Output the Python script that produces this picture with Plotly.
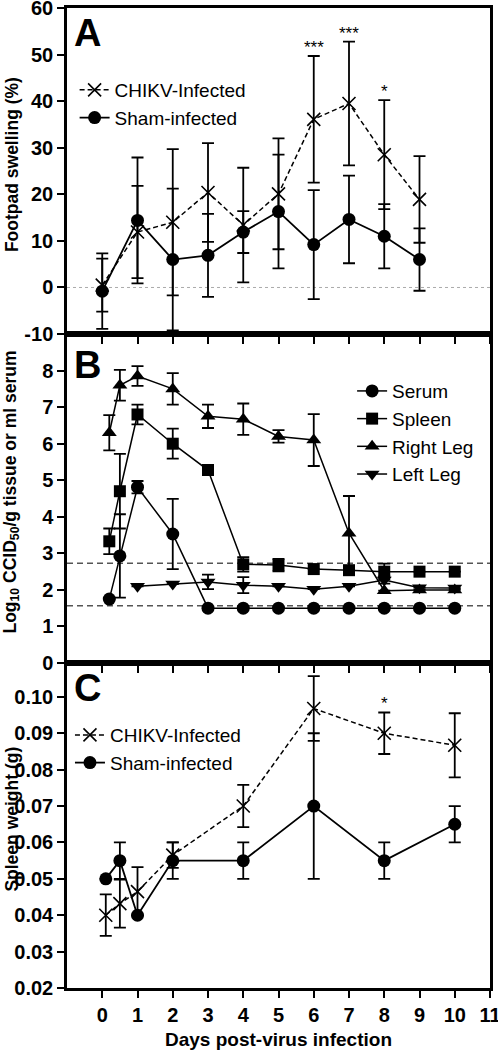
import plotly.graph_objects as go

FONT = "Liberation Sans, Arial, sans-serif"

# ---------------- Panel A: footpad swelling ----------------
days_A = [0, 1, 2, 3, 4, 5, 6, 7, 8, 9]
chikv_A = [0.5, 11.9, 14.0, 20.4, 13.4, 20.1, 36.1, 39.5, 28.5, 18.9]
chikv_A_sd = [5.7, 9.9, 15.7, 10.6, 12.3, 11.9, 13.6, 13.3, 11.7, 9.3]
sham_A = [-0.8, 14.4, 6.0, 6.9, 11.9, 16.3, 9.2, 14.6, 11.0, 6.0]
sham_A_sd = [8.1, 13.5, 15.2, 8.9, 4.5, 12.2, 11.7, 9.4, 6.9, 6.7]
stars_A_days = [6, 7, 8]
stars_A_text = ["***", "***", "*"]
ticks_A = [-10, 0, 10, 20, 30, 40, 50, 60]

# ---------------- Panel B: virus titres ----------------
days_B = [0.2, 0.5, 1, 2, 3, 4, 5, 6, 7, 8, 9, 10]
serum_B = [1.75, 2.93, 4.81, 3.53, 1.5, 1.5, 1.5, 1.5, 1.5, 1.5, 1.5, 1.5]
serum_B_sd = [None, 1.14, 0.17, 0.96, None, None, None, None, None, None, None, None]
spleen_B = [3.33, 4.70, 6.80, 6.00, 5.28, 2.70, 2.68, 2.57, 2.54, 2.50, 2.50, 2.50]
spleen_B_sd = [0.35, 1.02, 0.27, 0.41, 0.10, 0.20, 0.17, None, None, 0.22, None, None]
rightleg_B = [6.30, 7.60, 7.85, 7.50, 6.75, 6.67, 6.20, 6.10, 3.55, 1.98, 2.00, 2.00]
rightleg_B_sd = [0.48, 0.42, 0.27, 0.43, 0.32, 0.43, 0.17, 0.71, 1.02, None, None, None]
days_B_left = [1, 2, 3, 4, 5, 6, 7, 8, 9, 10]
leftleg_B = [2.10, 2.16, 2.22, 2.13, 2.10, 2.02, 2.10, 2.27, 2.06, 2.05]
leftleg_B_sd = [None, None, 0.20, 0.22, None, None, None, 0.10, None, None]
detection_limits = [2.73, 1.57]
ticks_B = [0, 1, 2, 3, 4, 5, 6, 7, 8]

# ---------------- Panel C: spleen weight ----------------
days_C = [0.1, 0.5, 1, 2, 4, 6, 8, 10]
chikv_C = [0.0400, 0.0432, 0.0465, 0.0565, 0.0700, 0.0968, 0.0900, 0.0867]
chikv_C_sd = [0.0057, 0.0066, 0.0067, 0.0035, 0.0058, 0.0089, 0.0057, 0.0088]
sham_C = [0.050, 0.055, 0.040, 0.055, 0.055, 0.070, 0.055, 0.065]
sham_C_sd = [None, 0.005, None, 0.005, 0.005, 0.020, 0.005, 0.005]
stars_C_days = [8]
stars_C_text = ["*"]
ticks_C = [0.02, 0.03, 0.04, 0.05, 0.06, 0.07, 0.08, 0.09, 0.10]

x_ticks = list(range(0, 12))

fig = go.Figure()

def err(arr):
    return dict(type="data", array=arr, visible=True, color="black", thickness=1.8, width=6)

# Panel A traces
fig.add_trace(go.Scatter(
    x=days_A, y=chikv_A, error_y=err(chikv_A_sd), name="CHIKV-Infected",
    mode="lines+markers", xaxis="x", yaxis="y", legend="legend",
    line=dict(color="black", width=1.5, dash="5px,3px"),
    marker=dict(symbol="x-thin", size=13, color="black", line=dict(color="black", width=1.6))))
fig.add_trace(go.Scatter(
    x=days_A, y=sham_A, error_y=err(sham_A_sd), name="Sham-infected",
    mode="lines+markers", xaxis="x", yaxis="y", legend="legend",
    line=dict(color="black", width=1.8),
    marker=dict(symbol="circle", size=13, color="black")))

# Panel B traces
for name, xs, ys, sd, sym, sz in [
    ("Serum", days_B, serum_B, serum_B_sd, "circle", 13),
    ("Spleen", days_B, spleen_B, spleen_B_sd, "square", 12),
    ("Right Leg", days_B, rightleg_B, rightleg_B_sd, "triangle-up", 13),
    ("Left Leg", days_B_left, leftleg_B, leftleg_B_sd, "triangle-down", 13),
]:
    fig.add_trace(go.Scatter(
        x=xs, y=ys, error_y=err(sd), name=name, mode="lines+markers",
        xaxis="x2", yaxis="y2", legend="legend2",
        line=dict(color="black", width=1.5),
        marker=dict(symbol=sym, size=sz, color="black")))

# Panel C traces
fig.add_trace(go.Scatter(
    x=days_C, y=chikv_C, error_y=err(chikv_C_sd), name="CHIKV-Infected",
    mode="lines+markers", xaxis="x3", yaxis="y3", legend="legend3",
    line=dict(color="black", width=1.5, dash="5px,3px"),
    marker=dict(symbol="x-thin", size=13, color="black", line=dict(color="black", width=1.6))))
fig.add_trace(go.Scatter(
    x=days_C, y=sham_C, error_y=err(sham_C_sd), name="Sham-infected",
    mode="lines+markers", xaxis="x3", yaxis="y3", legend="legend3",
    line=dict(color="black", width=1.8),
    marker=dict(symbol="circle", size=13, color="black")))

# reference lines
fig.add_shape(type="line", xref="x domain", yref="y", x0=0, x1=1, y0=0, y1=0,
              line=dict(color="#aaaaaa", width=1, dash="dot"), layer="below")
for lim in detection_limits:
    fig.add_shape(type="line", xref="x2 domain", yref="y2", x0=0, x1=1, y0=lim, y1=lim,
                  line=dict(color="#555555", width=1.5, dash="6px,4px"), layer="below")

# significance stars
for d, t in zip(stars_A_days, stars_A_text):
    i = days_A.index(d)
    fig.add_annotation(x=d, y=chikv_A[i] + chikv_A_sd[i], xref="x", yref="y", text=t,
                       showarrow=False, yanchor="bottom", yshift=-3,
                       font=dict(family=FONT, size=17, color="black"))
for d, t in zip(stars_C_days, stars_C_text):
    i = days_C.index(d)
    fig.add_annotation(x=d, y=chikv_C[i] + chikv_C_sd[i], xref="x3", yref="y3", text=t,
                       showarrow=False, yanchor="bottom", yshift=-2,
                       font=dict(family=FONT, size=17, color="black"))

# panel letters
for letter, yref, ysh in [("A", "y domain", -2), ("B", "y2 domain", -8), ("C", "y3 domain", -2)]:
    fig.add_annotation(text="<b>%s</b>" % letter, xref="paper", yref=yref, x=0.012, y=1.0,
                       xanchor="left", yanchor="top", yshift=ysh, showarrow=False,
                       font=dict(family=FONT, size=38, color="black"))

# y-axis titles
for txt, yref in [("<b>Footpad swelling (%)</b>", "y domain"),
                  ("<b>Log<sub>10</sub> CCID<sub>50</sub>/g tissue or ml serum</b>", "y2 domain"),
                  ("<b>Spleen weight (g)</b>", "y3 domain")]:
    fig.add_annotation(text=txt, xref="paper", yref=yref, x=-0.131, y=0.52,
                       textangle=-90, showarrow=False, xanchor="center", yanchor="middle",
                       font=dict(family=FONT, size=17.5, color="black"))

axis_common = dict(showline=True, linewidth=2.5, linecolor="black", mirror=True,
                   ticks="outside", ticklen=7, tickwidth=2, tickcolor="black",
                   showgrid=False, zeroline=False, automargin=False,
                   ticklabeloverflow="allow",
                   tickfont=dict(family=FONT, size=20, color="black"))

def bold(vals, fmt="{}"):
    return ["<b>%s</b>" % fmt.format(v) for v in vals]

doms = [[0.6673, 1.0], [0.3316, 0.6673], [0.0, 0.3316]]

fig.update_layout(
    width=498, height=1050, autosize=False,
    margin=dict(l=67, r=8, t=8, b=62, autoexpand=False),
    paper_bgcolor="white", plot_bgcolor="white",
    font=dict(family=FONT, color="black"),
    xaxis=dict(domain=[0, 1], anchor="y", range=[-1, 11], tickvals=x_ticks,
               showticklabels=False, **axis_common),
    yaxis=dict(domain=doms[0], anchor="x", range=[-10, 60], tickvals=ticks_A,
               ticktext=bold(ticks_A), **axis_common),
    xaxis2=dict(domain=[0, 1], anchor="y2", range=[-1, 11], tickvals=x_ticks,
                showticklabels=False, **axis_common),
    yaxis2=dict(domain=doms[1], anchor="x2", range=[0, 9], tickvals=ticks_B,
                ticktext=bold(ticks_B), **axis_common),
    xaxis3=dict(domain=[0, 1], anchor="y3", range=[-1, 11], tickvals=x_ticks,
                ticktext=bold(x_ticks),
                title=dict(text="<b>Days post-virus infection</b>", standoff=14,
                           font=dict(family=FONT, size=19, color="black")),
                **axis_common),
    yaxis3=dict(domain=doms[2], anchor="x3", range=[0.02, 0.1093],
                tickvals=ticks_C, ticktext=bold(ticks_C, "{:.2f}"), **axis_common),
    legend=dict(x=0.018, y=0.9357, xanchor="left", yanchor="top", bgcolor="rgba(0,0,0,0)",
                font=dict(family=FONT, size=19, color="black"), itemwidth=30, tracegroupgap=0),
    legend2=dict(x=0.674, y=0.6285, xanchor="left", yanchor="top", bgcolor="rgba(0,0,0,0)",
                 font=dict(family=FONT, size=19, color="black"), itemwidth=30, tracegroupgap=0),
    legend3=dict(x=0.007, y=0.2775, xanchor="left", yanchor="top", bgcolor="rgba(0,0,0,0)",
                 font=dict(family=FONT, size=19, color="black"), itemwidth=30, tracegroupgap=0),
)

fig.write_html("out.html", config={"displayModeBar": False},
               post_script="document.body.style.margin='0px';")
